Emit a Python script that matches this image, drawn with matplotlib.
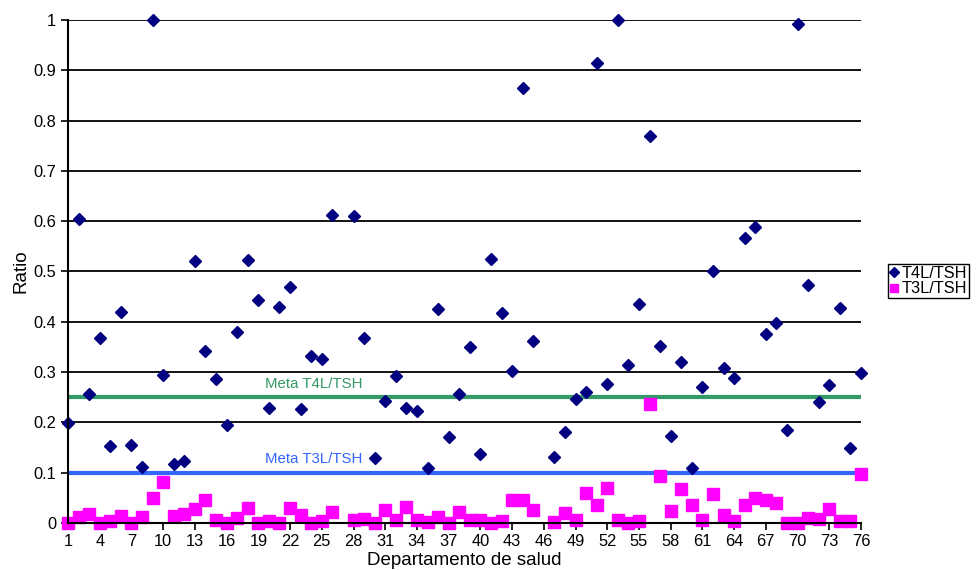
import numpy as np
import matplotlib
matplotlib.use('Agg')
import matplotlib.pyplot as plt

plt.rcParams['font.family'] = ['Liberation Sans', 'DejaVu Sans']

# 数据：76 个卫生部门（27 和 46 没有数据）
departamentos = np.arange(1, 77)

t4l_tsh = np.array([0.198, 0.604, 0.257, 0.368, 0.154, 0.419, 0.156, 0.111, 1.0, 0.295,
                    0.117, 0.124, 0.520, 0.342, 0.286, 0.194, 0.379, 0.522, 0.443, 0.229,
                    0.429, 0.469, 0.227, 0.332, 0.325, 0.613, np.nan, 0.610, 0.367, 0.129,
                    0.243, 0.292, 0.229, 0.223, 0.109, 0.425, 0.171, 0.256, 0.350, 0.137,
                    0.525, 0.417, 0.303, 0.865, 0.362, np.nan, 0.132, 0.180, 0.246, 0.260,
                    0.915, 0.276, 1.0, 0.314, 0.435, 0.769, 0.352, 0.173, 0.321, 0.110,
                    0.271, 0.500, 0.308, 0.288, 0.566, 0.588, 0.376, 0.397, 0.185, 0.991,
                    0.473, 0.241, 0.275, 0.428, 0.150, 0.298])

t3l_tsh = np.array([0.0, 0.011, 0.018, 0.0, 0.004, 0.013, 0.0, 0.011, 0.049, 0.081,
                    0.013, 0.018, 0.027, 0.046, 0.005, 0.0, 0.009, 0.030, 0.0, 0.003,
                    0.0, 0.030, 0.016, 0.0, 0.004, 0.021, np.nan, 0.006, 0.008, 0.0,
                    0.026, 0.006, 0.031, 0.005, 0.001, 0.011, 0.0, 0.021, 0.006, 0.005,
                    0.0, 0.003, 0.046, 0.046, 0.025, np.nan, 0.002, 0.019, 0.005, 0.059,
                    0.036, 0.070, 0.006, 0.0, 0.004, 0.237, 0.094, 0.023, 0.068, 0.036,
                    0.005, 0.058, 0.016, 0.003, 0.036, 0.050, 0.046, 0.040, 0.0, 0.0,
                    0.009, 0.007, 0.028, 0.003, 0.003, 0.098])

meta_t4l = 0.25
meta_t3l = 0.1
xticks = np.arange(1, 77, 3)
yticks = np.round(np.arange(0, 1.01, 0.1), 1)

fig = plt.figure(figsize=(9.76, 5.7), dpi=100)
ax = fig.add_axes([0.0697, 0.0825, 0.8125, 0.8825])

# 网格线
for y in yticks[1:]:
    ax.axhline(y, color='black', linewidth=1.3, zorder=1)

# 目标线
ax.axhline(meta_t4l, color='#339966', linewidth=3, zorder=2)
ax.axhline(meta_t3l, color='#3366ff', linewidth=3, zorder=2)
ax.text(24.2, meta_t4l + 0.013, 'Meta T4L/TSH', color='#339966', fontsize=10.8,
        ha='center', va='bottom')
ax.text(24.2, meta_t3l + 0.013, 'Meta T3L/TSH', color='#3366ff', fontsize=10.8,
        ha='center', va='bottom')

ax.plot(departamentos, t4l_tsh, linestyle='none', marker='D', markersize=6.4,
        color='#000080', label='T4L/TSH', clip_on=False, zorder=4)
ax.plot(departamentos, t3l_tsh, linestyle='none', marker='s', markersize=8.2,
        color='#ff00ff', label='T3L/TSH', clip_on=False, zorder=3)

ax.set_xlim(1, 76)
ax.set_ylim(0, 1)
ax.set_xticks(xticks)
ax.set_yticks(yticks)
ax.set_yticklabels(['0' if v == 0 else ('1' if v == 1 else str(v)) for v in yticks])
ax.tick_params(axis='both', direction='out', length=5, width=1.2, labelsize=11.8, color='black')
ax.tick_params(axis='x', pad=3)

for s in ['top', 'right']:
    ax.spines[s].set_visible(False)
for s in ['left', 'bottom']:
    ax.spines[s].set_linewidth(1.5)
    ax.spines[s].set_zorder(5)

ax.set_xlabel('Departamento de salud', fontsize=13.5, labelpad=2)
ax.set_ylabel('Ratio', fontsize=13.5, labelpad=3)

leg = fig.legend(loc='upper left', bbox_to_anchor=(888 / 976, 1 - 264 / 570), fontsize=11.8,
                 frameon=True, fancybox=False, edgecolor='black', framealpha=1,
                 handlelength=0.5, handletextpad=0.2, borderpad=0.12, labelspacing=0.02,
                 borderaxespad=0, markerscale=0.75)
leg.get_frame().set_linewidth(1)

plt.savefig('out.png', dpi=100)
